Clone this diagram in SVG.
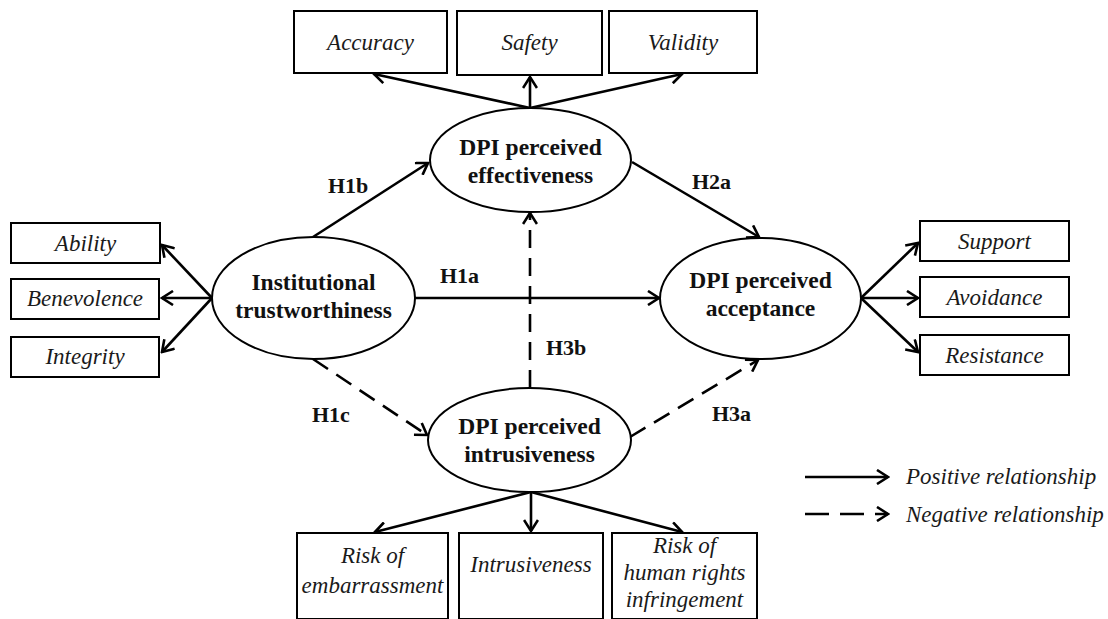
<svg xmlns="http://www.w3.org/2000/svg" width="1108" height="619" viewBox="0 0 1108 619">
<style>
.bg{fill:#fff}
.box{fill:#fff;stroke:#000;stroke-width:2}
.ell{fill:#fff;stroke:#000;stroke-width:2}
.it{font-family:"Liberation Serif","Times New Roman",serif;font-style:italic;font-size:23px;fill:#1a1a1a;text-anchor:middle}
.bd{font-family:"Liberation Serif","Times New Roman",serif;font-weight:bold;font-size:23.5px;fill:#111;text-anchor:middle}
.lb{font-family:"Liberation Serif","Times New Roman",serif;font-weight:bold;font-size:22px;fill:#111}
.ln{fill:none;stroke:#000;stroke-width:2.6;marker-end:url(#arr)}
.dash{stroke-dasharray:18 10}
.lg{font-family:"Liberation Serif","Times New Roman",serif;font-style:italic;font-size:23px;fill:#1a1a1a}
</style>
<defs>
<marker id="arr" viewBox="0 0 16 16" refX="14" refY="8" markerWidth="16" markerHeight="16" markerUnits="userSpaceOnUse" orient="auto">
<path d="M3,1 L14,8 L3,15" fill="none" stroke="#000" stroke-width="2.6" stroke-dasharray="none"/>
</marker>
</defs>
<rect class="bg" x="0" y="0" width="1108" height="619"/>

<g id="connectors">
<line class="ln" x1="530" y1="108" x2="374" y2="74"/>
<line class="ln" x1="530" y1="108" x2="530" y2="77"/>
<line class="ln" x1="530" y1="108" x2="682" y2="74"/>
<line class="ln" x1="212" y1="298" x2="162" y2="245"/>
<line class="ln" x1="212" y1="298" x2="162" y2="298"/>
<line class="ln" x1="212" y1="298" x2="162" y2="352"/>
<line class="ln" x1="861" y1="298" x2="918" y2="243"/>
<line class="ln" x1="861" y1="298" x2="918" y2="298"/>
<line class="ln" x1="861" y1="298" x2="918" y2="352"/>
<line class="ln" x1="531" y1="492" x2="375" y2="532"/>
<line class="ln" x1="531" y1="492" x2="531" y2="531"/>
<line class="ln" x1="531" y1="492" x2="682" y2="532"/>
<line class="ln" x1="313" y1="237" x2="428" y2="163"/>
<line class="ln" x1="632" y1="162" x2="759" y2="237"/>
<line class="ln" x1="415" y1="298" x2="659" y2="298"/>
<line class="ln dash" x1="313" y1="359" x2="427" y2="435"/>
<line class="ln dash" x1="530" y1="388" x2="530" y2="213"/>
<line class="ln dash" x1="630" y1="437" x2="758" y2="360"/>
<text class="lb" x="328" y="193">H1b</text>
<text class="lb" x="692" y="189">H2a</text>
<text class="lb" x="440" y="283">H1a</text>
<text class="lb" x="546" y="355">H3b</text>
<text class="lb" x="312" y="422">H1c</text>
<text class="lb" x="712" y="421">H3a</text>
</g>

<g id="accuracy"><rect class="box" x="294" y="11" width="153" height="62"/><text class="it" x="370.5" y="50">Accuracy</text></g>
<g id="safety"><rect class="box" x="457" y="11" width="145" height="64"/><text class="it" x="529.5" y="50">Safety</text></g>
<g id="validity"><rect class="box" x="609" y="11" width="148" height="62"/><text class="it" x="683" y="50">Validity</text></g>

<g id="ability"><rect class="box" x="11" y="223" width="149" height="40"/><text class="it" x="85.5" y="251">Ability</text></g>
<g id="benevolence"><rect class="box" x="11" y="279" width="148" height="40"/><text class="it" x="85" y="306">Benevolence</text></g>
<g id="integrity"><rect class="box" x="11" y="337" width="148" height="40"/><text class="it" x="85" y="364">Integrity</text></g>

<g id="support"><rect class="box" x="920" y="221" width="149" height="40"/><text class="it" x="994.5" y="249">Support</text></g>
<g id="avoidance"><rect class="box" x="920" y="277" width="149" height="40"/><text class="it" x="994.5" y="305">Avoidance</text></g>
<g id="resistance"><rect class="box" x="920" y="335" width="149" height="40"/><text class="it" x="994.5" y="363">Resistance</text></g>

<g id="embarrassment"><rect class="box" x="297" y="533" width="151" height="86"/><text class="it" x="372.5" y="563">Risk of</text><text class="it" x="372.5" y="593">embarrassment</text></g>
<g id="intrusiveness-ind"><rect class="box" x="459" y="533" width="144" height="86"/><text class="it" x="531" y="572">Intrusiveness</text></g>
<g id="human-rights"><rect class="box" x="612" y="533" width="145" height="86"/><text class="it" x="684.5" y="553">Risk of</text><text class="it" x="684.5" y="580">human rights</text><text class="it" x="684.5" y="607">infringement</text></g>

<g id="effectiveness"><ellipse class="ell" cx="530.5" cy="160" rx="100.5" ry="52"/><text class="bd" x="530.5" y="155">DPI perceived</text><text class="bd" x="530.5" y="183">effectiveness</text></g>
<g id="institutional"><ellipse class="ell" cx="313.5" cy="298" rx="101.5" ry="61"/><text class="bd" x="313.5" y="290">Institutional</text><text class="bd" x="313.5" y="318">trustworthiness</text></g>
<g id="acceptance"><ellipse class="ell" cx="760.5" cy="298.5" rx="100.5" ry="60.5"/><text class="bd" x="760.5" y="288">DPI perceived</text><text class="bd" x="760.5" y="316">acceptance</text></g>
<g id="intrusiveness"><ellipse class="ell" cx="529.5" cy="440" rx="101.5" ry="52"/><text class="bd" x="529.5" y="434">DPI perceived</text><text class="bd" x="529.5" y="462">intrusiveness</text></g>

<g id="legend">
<line class="ln" x1="805" y1="477" x2="888" y2="477"/>
<line class="ln" x1="805" y1="514" x2="888" y2="514" style="stroke-dasharray:24 11"/>
<text class="lg" x="906" y="484">Positive relationship</text>
<text class="lg" x="906" y="522">Negative relationship</text>
</g>
</svg>
